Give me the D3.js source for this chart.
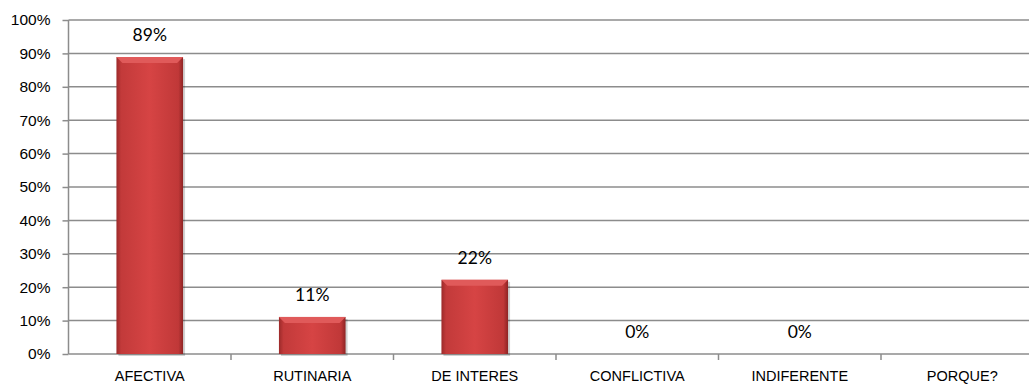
<!DOCTYPE html>
<html>
<head>
<meta charset="utf-8">
<script src="https://cdn.jsdelivr.net/npm/d3@7"></script>
<style>
  body { margin: 0; background: #fff; }
  svg { display: block; font-family: Lato, 'Open Sans', sans-serif; }
</style>
</head>
<body>
<div id="chart"></div>
<script>
'use strict';

// data
var categories = [ 'AFECTIVA', 'RUTINARIA', 'DE INTERES', 'CONFLICTIVA', 'INDIFERENTE', 'PORQUE?' ];
var values = [ 0.889, 0.111, 0.222, 0, 0, null ];
var yTicks = [ 0, 0.1, 0.2, 0.3, 0.4, 0.5, 0.6, 0.7, 0.8, 0.9, 1 ];

var baseWidth = 1029,
    baseHeight = 385,
    margin = { top: 20, right: -14.5, bottom: 31, left: 68.5 };

var width = baseWidth - margin.left - margin.right,
    height = baseHeight - margin.top - margin.bottom;

var x = d3.scaleBand()
    .domain( categories )
    .range( [ 0, width ] )
    .padding( 0 );

var y = d3.scaleLinear()
    .domain( [ 0, 1 ] )
    .range( [ height, 0 ] );

var barWidth = x.bandwidth() * 0.41;

var svg = d3.select( '#chart' )
  .append( 'svg' )
    .attr( 'width', baseWidth )
    .attr( 'height', baseHeight );

var defs = svg.append( 'defs' );

var grad = defs.append( 'linearGradient' )
    .attr( 'id', 'barGrad' )
    .attr( 'x1', '0%' ).attr( 'x2', '100%' )
    .attr( 'y1', '0%' ).attr( 'y2', '0%' );
grad.append( 'stop' ).attr( 'offset', '0%' ).attr( 'stop-color', '#9c2a2a' );
grad.append( 'stop' ).attr( 'offset', '7%' ).attr( 'stop-color', '#c23a3a' );
grad.append( 'stop' ).attr( 'offset', '50%' ).attr( 'stop-color', '#d64444' );
grad.append( 'stop' ).attr( 'offset', '93%' ).attr( 'stop-color', '#c03838' );
grad.append( 'stop' ).attr( 'offset', '100%' ).attr( 'stop-color', '#8e2424' );

var g = svg.append( 'g' )
    .attr( 'transform', 'translate(' + margin.left + ',' + margin.top + ')' );

// gridlines
g.append( 'g' )
    .selectAll( 'line' )
    .data( yTicks.filter( function( d ) { return d > 0; } ) )
  .enter().append( 'line' )
    .attr( 'x1', 0 )
    .attr( 'x2', width )
    .attr( 'y1', function( d ) { return y( d ); } )
    .attr( 'y2', function( d ) { return y( d ); } )
    .style( 'stroke', '#8c8c8c' )
    .attr( 'stroke-width', 1.5 );

// y axis
var yAxis = g.append( 'g' )
    .attr( 'class', 'y axis' )
    .call( d3.axisLeft( y ).tickValues( yTicks ).tickSize( 6 ).tickPadding( 12 )
      .tickFormat( function( d ) { return Math.round( d * 100 ) + '%'; } ) );
yAxis.select( '.domain' ).remove();
yAxis.selectAll( 'line' ).style( 'stroke', '#8c8c8c' ).attr( 'stroke-width', 1.5 );
yAxis.selectAll( 'text' ).style( 'font-size', '15.5px' ).style( 'fill', '#000' );

g.append( 'line' )
    .attr( 'x1', 0 ).attr( 'x2', 0 )
    .attr( 'y1', 0 ).attr( 'y2', height )
    .style( 'stroke', '#8c8c8c' )
    .attr( 'stroke-width', 1.5 );

// x axis
var xAxis = g.append( 'g' )
    .attr( 'class', 'x axis' )
    .attr( 'transform', 'translate(0,' + height + ')' )
    .call( d3.axisBottom( x ).tickSize( 0 ).tickPadding( 17 ) );
xAxis.select( '.domain' ).remove();
xAxis.selectAll( 'text' ).style( 'font-size', '14.5px' ).style( 'fill', '#000' );

g.append( 'line' )
    .attr( 'x1', 0 ).attr( 'x2', width )
    .attr( 'y1', height ).attr( 'y2', height )
    .style( 'stroke', '#8c8c8c' )
    .attr( 'stroke-width', 1.5 );

// category boundary ticks
g.selectAll( '.xtick' )
    .data( categories )
  .enter().append( 'line' )
    .attr( 'class', 'xtick' )
    .attr( 'x1', function( d ) { return x( d ) + x.bandwidth(); } )
    .attr( 'x2', function( d ) { return x( d ) + x.bandwidth(); } )
    .attr( 'y1', height )
    .attr( 'y2', height + 6 )
    .style( 'stroke', '#8c8c8c' )
    .attr( 'stroke-width', 1.5 );

var barData = categories.map( function( c, i ) { return { cat: c, v: values[ i ] }; } )
    .filter( function( d ) { return d.v !== null; } );

// bars
var bars = g.selectAll( '.bar' )
    .data( barData.filter( function( d ) { return d.v > 0; } ) )
  .enter().append( 'g' )
    .attr( 'class', 'bar' );

bars.append( 'rect' )
    .attr( 'x', function( d ) { return x( d.cat ) + ( x.bandwidth() - barWidth ) / 2 + 2; } )
    .attr( 'y', function( d ) { return y( d.v ) + 2; } )
    .attr( 'width', barWidth )
    .attr( 'height', function( d ) { return y( 0 ) - y( d.v ); } )
    .attr( 'fill', 'rgba(0,0,0,0.18)' );

bars.append( 'rect' )
    .attr( 'x', function( d ) { return x( d.cat ) + ( x.bandwidth() - barWidth ) / 2; } )
    .attr( 'y', function( d ) { return y( d.v ); } )
    .attr( 'width', barWidth )
    .attr( 'height', function( d ) { return y( 0 ) - y( d.v ); } )
    .attr( 'fill', 'url(#barGrad)' );

// bevel on top
bars.append( 'path' )
    .attr( 'd', function( d ) {
      var x0 = x( d.cat ) + ( x.bandwidth() - barWidth ) / 2,
          x1 = x0 + barWidth,
          y0 = y( d.v ),
          b = 6;
      return 'M' + x0 + ',' + y0 + 'L' + x1 + ',' + y0 +
        'L' + ( x1 - b ) + ',' + ( y0 + b ) + 'L' + ( x0 + b ) + ',' + ( y0 + b ) + 'Z';
    } )
    .attr( 'fill', '#e05a5a' );

// value labels
g.selectAll( '.label' )
    .data( barData )
  .enter().append( 'text' )
    .attr( 'class', 'label' )
    .attr( 'x', function( d ) { return x( d.cat ) + x.bandwidth() / 2; } )
    .attr( 'y', function( d ) { return y( d.v ) - 16; } )
    .attr( 'text-anchor', 'middle' )
    .style( 'font-size', '17.5px' )
    .style( 'fill', '#000' )
    .text( function( d ) { return Math.round( d.v * 100 ) + '%'; } );
</script>
</body>
</html>
